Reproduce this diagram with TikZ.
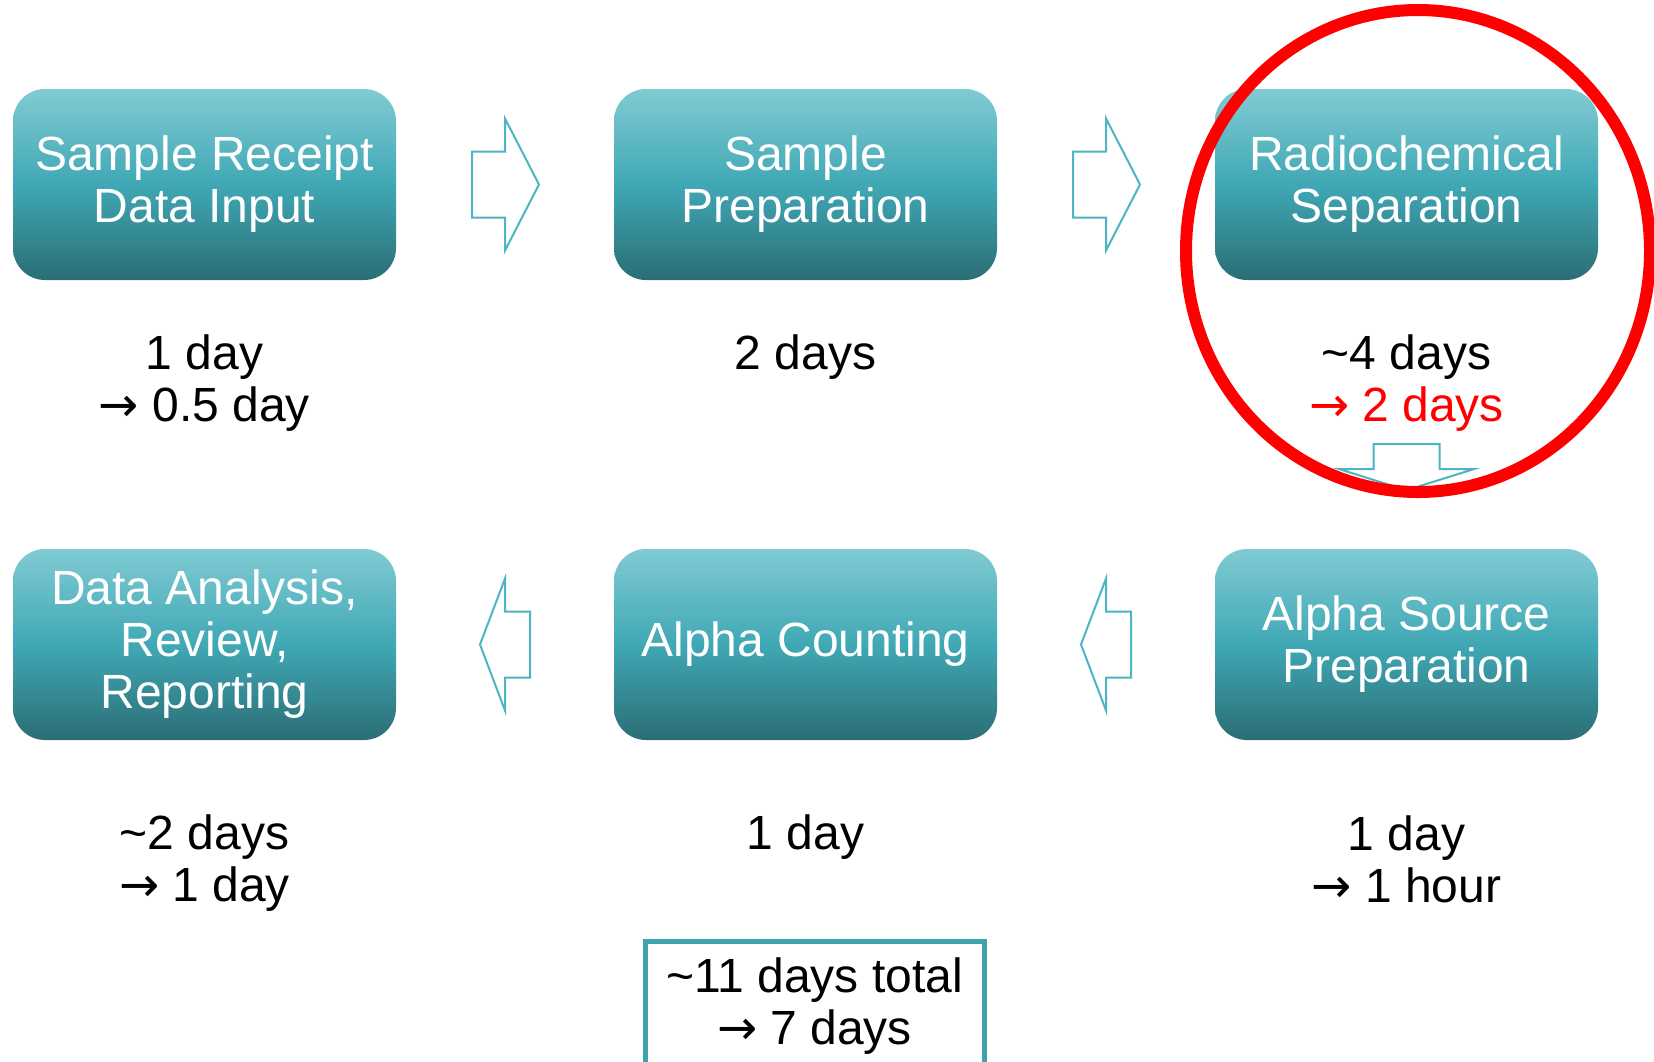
\documentclass[tikz,border=0pt]{standalone}
\usepackage{fontspec}
\setmainfont{Liberation Sans}
\newfontfamily\arrowfont{DejaVu Sans}
\usetikzlibrary{calc}
\definecolor{tealtop}{RGB}{128,203,211}
\definecolor{tealmid}{RGB}{64,168,181}
\definecolor{tealbot}{RGB}{43,110,117}
\definecolor{arrowteal}{RGB}{75,181,193}
\definecolor{frameteal}{RGB}{63,163,174}
\definecolor{markred}{RGB}{255,0,0}
\newcommand{\tto}{{\arrowfont →}}
\tikzset{
	stagebox/.style={rounded corners=32pt, minimum width=383pt, minimum height=191pt, inner sep=0pt,
		top color=tealtop, bottom color=tealbot, middle color=tealmid,
		text=white, align=center, font=\fontsize{48}{52}\selectfont},
	timetext/.style={align=center, inner sep=0pt, font=\fontsize{48}{52}\selectfont},
	blockarrow/.style={draw=arrowteal, line width=2pt, line join=miter},
	totalframe/.style={draw=frameteal, line width=5pt},
	redring/.style={draw=markred, line width=12pt}
}
\begin{document}
\begin{tikzpicture}[x=1pt, y=-1pt]
\useasboundingbox (0,0) rectangle (1654,1061);
% stages, top row
\node[stagebox] (sr) at (204.5,184.5) {Sample Receipt\\Data Input};
\node[stagebox] (sp) at (805.5,184.5) {Sample\\Preparation};
\node[stagebox] (rs) at (1406.5,184.5) {Radiochemical\\Separation};
% stages, bottom row
\node[stagebox] (da) at (204.5,644.5) {Data Analysis,\\Review,\\Reporting};
\node[stagebox] (ac) at (805.5,644.5) {Alpha Counting};
\node[stagebox] (asp) at (1406.5,644.5) {Alpha Source\\Preparation};
% times
\node[timetext] (srtime) at (204.5,383.5) {1 day\\\tto\ 0.5 day};
\node[timetext] (sptime) at (805.5,357.5) {2 days};
\node[timetext] (rstime) at (1406.5,383.5) {\textasciitilde4 days\\\textcolor{markred}{\tto\ 2 days}};
\node[timetext] (datime) at (204.5,863.5) {\textasciitilde2 days\\\tto\ 1 day};
\node[timetext] (actime) at (805.5,837.5) {1 day};
\node[timetext] (asptime) at (1406.5,859) {1 day\\\tto\ 1 hour};
% block arrows
\coordinate (a1) at ($(sr.east)!0.5!(sp.west)$);
\coordinate (a2) at ($(sp.east)!0.5!(rs.west)$);
\coordinate (a3) at ($(rs.south)+(0,189)$);
\coordinate (a4) at ($(ac.east)!0.5!(asp.west)$);
\coordinate (a5) at ($(da.east)!0.5!(ac.west)$);
\foreach \c in {a1, a2} {
	\draw[blockarrow, shift={(\c)}] (-33,-33) -- (0,-33) -- (0,-66) -- (34,0) -- (0,66) -- (0,33) -- (-33,33) -- cycle;
	};
\foreach \c in {a4, a5} {
	\draw[blockarrow, shift={(\c)}] (25,-33) -- (0,-33) -- (0,-66) -- (-25,0) -- (0,66) -- (0,33) -- (25,33) -- cycle;
	};
\draw[blockarrow, shift={(a3)}] (-33,-25) -- (-33,0) -- (-67,0) -- (0,21) -- (67,0) -- (33,0) -- (33,-25) -- cycle;
% red mark round the separation step
\draw[redring] (1418,251) ellipse [x radius=232, y radius=241];
% total
\node[timetext] (total) at (814.5,1006) {\textasciitilde11 days total\\\tto\ 7 days};
\draw[totalframe] (645,1080) |- (984.5,941) -- (984.5,1080);
\end{tikzpicture}
\end{document}
